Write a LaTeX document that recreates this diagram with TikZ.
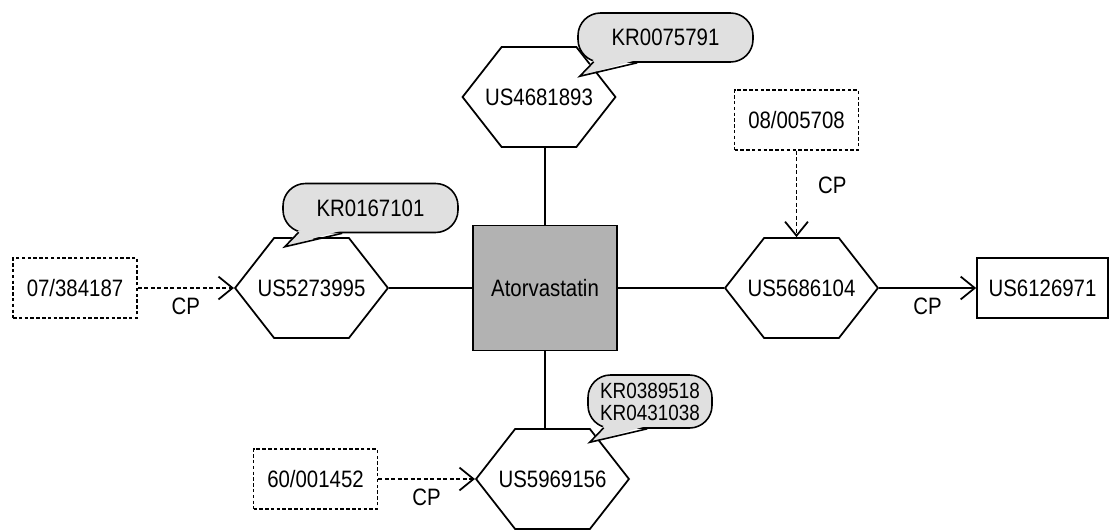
\documentclass[tikz,border=0pt]{standalone}
\usepackage{fontspec}
\setmainfont{Liberation Sans}[FakeStretch=0.86]
\usetikzlibrary{arrows.meta,positioning,calc,shapes.symbols}
\definecolor{drugfill}{RGB}{178,178,178}
\definecolor{notefill}{RGB}{224,224,224}

% tail of a note, pointing down-left towards its patent
\newcommand{\notetail}[1]{%
  \fill[notefill] ($(#1.south -| #1.west)+(0.33,0.06)$) -- ($(#1.south -| #1.west)+(0.05,-0.27)$) -- ($(#1.south -| #1.west)+(1.2,0.06)$) -- cycle;
  \draw[line width=0.9pt] ($(#1.south -| #1.west)+(0.33,0.02)$) -- ($(#1.south -| #1.west)+(0.05,-0.27)$) -- ($(#1.south -| #1.west)+(1.2,0)$);}

\begin{document}
\begin{tikzpicture}[
    every node/.style={font=\fontsize{13.5}{14}\selectfont},
    patent/.style={draw, line width=1pt, signal, signal to=east and west, signal pointer angle=104, minimum height=2cm, inner ysep=0pt, inner xsep=-0.33cm},
    appl/.style={draw, dash pattern=on 2pt off 1.3pt, line width=0.9pt, minimum width=2.48cm, minimum height=1.2cm},
    note/.style={draw, fill=notefill, rounded corners=0.45cm, line width=0.9pt, minimum width=3.5cm, minimum height=0.98cm, align=center, inner sep=2pt},
    cparrow/.style={-{Straight Barb[length=8pt,width=13pt]}, line width=1pt},
    link/.style={line width=1pt}]
    \useasboundingbox (0,0) rectangle (22.2,10.58);
    % Drug in the middle
    \node[draw, fill=drugfill, line width=1pt, minimum width=2.88cm, minimum height=2.5cm] (drug) at (10.9,4.82) {Atorvastatin};
    % Patents round it
    \node[patent] (p4681893) at (10.78,8.64) {US4681893};
    \node[patent] (p5273995) at (6.23,4.82) {US5273995};
    \node[patent] (p5686104) at (16.03,4.82) {US5686104};
    \node[patent] (p5969156) at (11.05,1.0) {US5969156};
    \draw[link] (drug.north) -- (drug.north |- p4681893.south);
    \draw[link] (drug.south) -- (drug.south |- p5969156.north);
    \draw[link] (drug.west) -- (p5273995.east);
    \draw[link] (drug.east) -- (p5686104.west);
    % Applications (dashed) and continuation
    \node[appl] (a07384187) at (1.5,4.82) {07/384187};
    \node[appl] (a08005708) at (15.93,8.18) {08/005708};
    \node[appl] (a60001452) at (6.31,1.0) {60/001452};
    \node[draw, line width=1pt, minimum width=2.62cm, minimum height=1.2cm] (p6126971) at (20.85,4.82) {US6126971};
    \draw[cparrow, dash pattern=on 2.2pt off 1.5pt] (a07384187.east) -- node[below=2pt]{CP} (p5273995.west);
    \draw[cparrow, dash pattern=on 2.2pt off 1.5pt] (a08005708.south) -- node[pos=0.4, right=0.3cm]{CP} (a08005708.south |- p5686104.north);
    \draw[cparrow, dash pattern=on 2.2pt off 1.5pt] (a60001452.east) -- node[below=2pt]{CP} (p5969156.west);
    \draw[cparrow] (p5686104.east) -- node[below=2pt]{CP} (p6126971.west);
    % Korean family notes
    \node[note] (k0075791) at (13.31,9.83) {KR0075791};
    \node[note] (k0167101) at (7.41,6.42) {KR0167101};
    \node[note, minimum width=2.48cm, minimum height=1.06cm, font=\fontsize{12.5}{12.5}\selectfont] (k0389518) at (13.0,2.55) {KR0389518\\KR0431038};
    \notetail{k0075791}
    \notetail{k0167101}
    \notetail{k0389518}
\end{tikzpicture}
\end{document}
